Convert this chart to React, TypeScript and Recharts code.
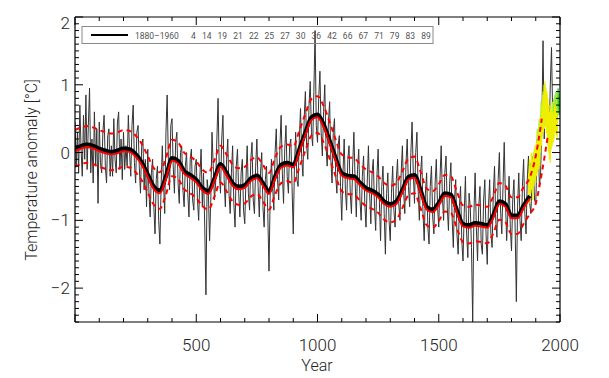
import { LineChart, Line, XAxis, YAxis } from "recharts";

const noisyYears = Array.from({ length: 395 }, (_, i) => i * 5);
const noisyValues = [
  0.45, -0.2, 0.3, -0.3, 0.7, 0.05, -0.35, 0.55, -0.1, 0.85, -0.25, 0.4, 0.95, -0.3, 0.2, -0.45, 0.6, -0.2, 0.35, -0.75,
  0.45, -0.15, -0.3, 0.3, 0.55, -0.2, -0.45, 0.25, 0.35, -0.35, 0.1, -0.35, 0.5, -0.1, -0.3, 0.45, 0.6, -0.25, 0.2, -0.4,
  0.3, -0.25, 0.1, -0.2, 0.55, 0.0, -0.35, 0.4, 0.7, -0.15, -0.45, 0.3, 0.4, -0.2, -0.6, 0.1, 0.2, -0.55, -0.1, -0.8,
  0.05, -0.6, -0.95, -0.3, -0.1, -0.8, -1.2, -0.4, -0.2, -1.0, -1.35, -0.5, 0.1, -0.45, -0.9, 0.3, 0.85, -0.1, -0.55, 0.4,
  0.5, -0.2, -0.6, 0.15, 0.3, -0.45, -0.75, 0.0, 0.1, -0.55, -0.8, -0.2, 0.0, -0.6, -0.95, -0.1, 0.05, -0.7, -0.85, -0.2,
  -0.1, -0.7, -1.0, -0.35, 0.05, -0.8, -0.3, -1.1, -2.1, -0.4, -0.6, -1.3, -0.7, 0.3, -0.2, -0.7, -0.45, 0.2, 0.8, -0.3,
  -0.6, 0.2, 0.55, -0.4, -0.8, -0.1, 0.2, -0.6, -0.9, -0.3, 0.1, -0.75, -1.1, -0.2, 0.05, -0.6, -0.95, -0.3, -0.1, -0.85,
  -1.05, -0.4, 0.1, -0.6, -0.85, -0.1, 0.15, -0.7, -0.9, -0.2, 0.2, -0.5, -0.95, -0.3, 0.0, -0.8, -1.1, -0.4, -0.2, -0.9,
  -1.75, -0.6, -0.1, -0.5, -0.85, 0.0, 0.35, -0.4, -0.7, 0.1, 0.55, -0.3, -0.75, 0.05, 0.4, -0.35, -0.6, 0.1, 0.2, -0.5,
  -1.2, -0.2, 0.3, -0.4, -0.5, 0.2, 0.65, -0.1, -0.35, 0.5, 0.9, 0.1, -0.1, 0.7, 1.05, 0.3, 0.1, 0.9, 1.8, 0.4,
  0.15, 0.8, 1.2, 0.3, -0.05, 0.6, 1.0, 0.1, -0.2, 0.45, 0.75, -0.1, -0.45, 0.3, 0.5, -0.35, -0.6, 0.1, 0.25, -0.5,
  -1.0, -0.3, 0.2, -0.55, -0.85, -0.1, 0.1, -0.6, -0.9, -0.2, 0.3, -0.4, -0.95, -0.25, 0.05, -0.7, -1.0, -0.35, -0.05, -0.75,
  -1.1, -0.45, 0.1, -0.6, -1.05, -0.3, -0.1, -0.8, -1.15, -0.35, 0.05, -0.7, -1.3, -0.5, -0.2, -0.9, -1.5, -0.6, -0.3, -1.0,
  -1.3, -0.6, -0.2, -0.85, -1.1, -0.4, -0.1, -0.75, -1.0, -0.3, 0.1, -0.55, -0.9, -0.15, 0.2, -0.5, -0.8, 0.0, 0.45, -0.3,
  -0.75, 0.0, 0.3, -0.55, -1.0, -0.3, -0.05, -0.9, -1.3, -0.6, -0.3, -1.1, -1.35, -0.5, -0.2, -0.95, -1.2, -0.45, -0.1, -0.8,
  -1.1, -0.4, 0.1, -0.65, -1.0, -0.3, -0.05, -0.8, -1.15, -0.45, -0.15, -0.95, -1.4, -0.7, -0.4, -1.2, -1.5, -0.8, -0.5, -1.3,
  -1.6, -0.9, -0.35, -1.2, -1.55, -0.6, -0.8, -1.4, -2.5, -0.9, -0.3, -1.1, -1.6, -0.8, -0.5, -1.35, -1.5, -0.7, -0.4, -1.2,
  -1.65, -0.8, -0.4, -1.2, -1.4, -0.6, -0.2, -1.0, -1.25, -0.4, 0.0, -0.85, -1.2, -0.5, 0.15, -0.7, -1.3, -0.9, -0.35, -1.1,
  -1.45, -0.7, -0.4, -1.1, -2.2, -0.8, -0.3, -1.0, -1.3, -0.5, -0.1, -0.9, -1.2, -0.4, -0.05, -0.75, -0.9, -0.3, -0.2, -0.7,
  -0.75, -0.1, 0.2, -0.5, -0.3, 0.4, 1.65, 0.2, 0.9, 0.3, 0.6, 0.2, 1.0, 1.55, 0.5,
];

// smoothed curves, every 25 years (0..1875)
const smoothYears = Array.from({ length: 76 }, (_, i) => i * 25);
const smoothBlack = [
  0.06, 0.1, 0.12, 0.1, 0.06, 0.03, 0.01, 0.03, 0.06, 0.05,
  -0.02, -0.14, -0.32, -0.5, -0.56, -0.35, -0.08, -0.12, -0.27, -0.33,
  -0.4, -0.52, -0.57, -0.38, -0.17, -0.3, -0.45, -0.5, -0.48, -0.38,
  -0.34, -0.45, -0.57, -0.35, -0.18, -0.15, -0.18, 0.05, 0.3, 0.52,
  0.56, 0.42, 0.18, -0.08, -0.3, -0.34, -0.35, -0.44, -0.52, -0.56,
  -0.62, -0.72, -0.76, -0.72, -0.55, -0.36, -0.33, -0.55, -0.8, -0.84,
  -0.74, -0.6, -0.62, -0.85, -1.05, -1.07, -1.04, -1.05, -1.07, -0.92,
  -0.72, -0.76, -0.93, -0.93, -0.78, -0.64,
];
const smoothRed = [
  0.02, 0.06, 0.08, 0.06, 0.02, -0.01, -0.03, -0.01, 0.02, 0.01,
  -0.06, -0.18, -0.36, -0.54, -0.6, -0.39, -0.12, -0.16, -0.31, -0.37,
  -0.44, -0.56, -0.61, -0.42, -0.21, -0.34, -0.49, -0.54, -0.52, -0.42,
  -0.38, -0.49, -0.61, -0.39, -0.22, -0.19, -0.22, 0.01, 0.26, 0.48,
  0.52, 0.38, 0.14, -0.12, -0.34, -0.38, -0.39, -0.48, -0.56, -0.6,
  -0.66, -0.76, -0.8, -0.76, -0.59, -0.4, -0.37, -0.59, -0.84, -0.88,
  -0.78, -0.64, -0.66, -0.89, -1.09, -1.11, -1.08, -1.09, -1.11, -0.96,
  -0.76, -0.8, -0.97, -0.97, -0.82, -0.68,
];

// confidence band (dashed), every 25 years
const upperYears = Array.from({ length: 78 }, (_, i) => i * 25);
const upperBand = [
  0.33, 0.37, 0.39, 0.37, 0.33, 0.3, 0.28, 0.3, 0.33, 0.32,
  0.25, 0.13, -0.05, -0.23, -0.29, -0.08, 0.19, 0.15, 0.0, -0.06,
  -0.13, -0.25, -0.3, -0.11, 0.1, -0.03, -0.18, -0.23, -0.21, -0.11,
  -0.07, -0.18, -0.3, -0.08, 0.09, 0.12, 0.09, 0.32, 0.57, 0.79,
  0.83, 0.69, 0.45, 0.19, -0.03, -0.07, -0.08, -0.17, -0.25, -0.29,
  -0.35, -0.45, -0.49, -0.45, -0.28, -0.09, -0.06, -0.28, -0.53, -0.57,
  -0.47, -0.33, -0.35, -0.58, -0.78, -0.8, -0.77, -0.78, -0.8, -0.65,
  -0.45, -0.49, -0.66, -0.66, -0.51, -0.37, -0.05, 0.5,
];
const lowerYears = Array.from({ length: 79 }, (_, i) => i * 25);
const lowerBand = [
  -0.21, -0.17, -0.15, -0.17, -0.21, -0.24, -0.26, -0.24, -0.21, -0.22,
  -0.29, -0.41, -0.59, -0.77, -0.83, -0.62, -0.35, -0.39, -0.54, -0.6,
  -0.67, -0.79, -0.84, -0.65, -0.44, -0.57, -0.72, -0.77, -0.75, -0.65,
  -0.61, -0.72, -0.84, -0.62, -0.45, -0.42, -0.45, -0.22, 0.03, 0.25,
  0.29, 0.15, -0.09, -0.35, -0.57, -0.61, -0.62, -0.71, -0.79, -0.83,
  -0.89, -0.99, -1.03, -0.99, -0.82, -0.63, -0.6, -0.82, -1.07, -1.11,
  -1.01, -0.87, -0.89, -1.12, -1.32, -1.34, -1.31, -1.32, -1.34, -1.19,
  -0.99, -1.03, -1.2, -1.2, -1.05, -0.91, -0.75, -0.3, 0.25,
];

// instrumental records
const yellowYears = Array.from({ length: 61 }, (_, i) => 1870 + i * 2);
const instYellow = [
  -0.3, -0.7, -0.1, -0.75, -0.2, -0.6, 0.0, -0.55, -0.1, -0.7,
  -0.05, -0.5, 0.05, -0.4, 0.1, -0.45, 0.15, -0.35, 0.2, -0.3,
  0.3, -0.25, 0.35, -0.2, 0.5, 0.0, 0.55, 0.1, 0.7, 0.25,
  0.85, 0.3, 1.0, 0.35, 1.05, 0.4, 0.95, 0.3, 0.9, 0.2,
  0.8, 0.0, 0.7, -0.1, 0.6, -0.15, 0.65, 0.05, 0.75, 0.1,
  0.6, 0.15, 0.55, 0.2, 0.7, 0.3, 0.65, 0.25, 0.6, 0.2, 0.5,
];
const lightGreenYears = Array.from({ length: 31 }, (_, i) => 1870 + i * 4);
const instLightGreen = [
  -0.5, -0.2, -0.6, -0.1, -0.45, 0.0, -0.3, 0.1, -0.2, 0.35,
  0.0, 0.5, 0.2, 0.75, 0.4, 0.9, 0.5, 1.0, 0.45, 0.85,
  0.1, 0.7, 0.0, 0.6, 0.2, 0.75, 0.3, 0.85, 0.35, 0.9, 0.5,
];
const greenYears = Array.from({ length: 33 }, (_, i) => 1872 + i * 4);
const instGreen = [
  -0.3, -0.55, -0.15, -0.5, -0.05, -0.35, 0.05, -0.25, 0.2, -0.1,
  0.35, 0.05, 0.55, 0.2, 0.7, 0.35, 0.8, 0.4, 0.75, 0.3,
  0.6, 0.1, 0.55, 0.15, 0.65, 0.2, 0.8, 0.3, 0.9, 0.45,
  0.95, 0.55, 0.9,
];

const xTicks = [0, 100, 200, 300, 400, 500, 600, 700, 800, 900, 1000, 1100, 1200, 1300, 1400, 1500, 1600, 1700, 1800, 1900, 2000];
const xLabels = [500, 1000, 1500, 2000];
const yTicks = Array.from({ length: 46 }, (_, i) => Math.round((-2.5 + i * 0.1) * 10) / 10);
const yLabels = [-2, -1, 0, 1, 2];
const legendText = "1880\u20131960  4 14 19 21 22 25 27 30 36 42 66 67 71 79 83 89";

const pts = (xs: number[], ys: number[]) => ys.map((v, i) => ({ year: xs[i], v }));

const FONT = "Roboto, 'DejaVu Sans', sans-serif";
const TXT = "#222";

function BottomTick({ x, y, payload }: any) {
  const v = payload.value;
  const major = v % 500 === 0;
  return (
    <g>
      <line x1={x} y1={y} x2={x} y2={y - (major ? 8 : 4)} stroke="#000" />
      {xLabels.includes(v) && (
        <text x={x} y={y + 29} textAnchor="middle" fontSize={17} fontFamily={FONT} fontWeight={300} fill={TXT}>
          {v}
        </text>
      )}
    </g>
  );
}

function TopTick({ x, y, payload }: any) {
  const major = payload.value % 500 === 0;
  return <line x1={x} y1={y} x2={x} y2={y + (major ? 8 : 4)} stroke="#000" />;
}

function LeftTick({ x, y, payload }: any) {
  const v = payload.value;
  const major = Math.abs(v - Math.round(v)) < 1e-6;
  const label = major && yLabels.includes(Math.round(v));
  return (
    <g>
      <line x1={x} y1={y} x2={x + (major ? 8 : 4)} y2={y} stroke="#000" />
      {label && (
        <text x={x - 5} y={Math.max(y + 6, 29)} textAnchor="end" fontSize={17} fontFamily={FONT} fontWeight={300} fill={TXT}>
          {Math.round(v) < 0 ? "\u2212" + Math.abs(Math.round(v)) : String(Math.round(v))}
        </text>
      )}
    </g>
  );
}

function RightTick({ x, y, payload }: any) {
  const v = payload.value;
  const major = Math.abs(v - Math.round(v)) < 1e-6;
  return <line x1={x} y1={y} x2={x - (major ? 8 : 4)} y2={y} stroke="#000" />;
}

export default function App() {
  const axisLine = { stroke: "#000", strokeWidth: 1.2 };
  return (
    <div style={{ position: "absolute", left: 0, top: 0, width: 609, height: 378, background: "#fff" }}>
      <LineChart width={609} height={378} margin={{ top: 16, right: 48, bottom: 26, left: 35 }}>
        <XAxis
          xAxisId="b"
          type="number"
          dataKey="year"
          domain={[0, 2000]}
          ticks={xTicks}
          interval={0}
          allowDataOverflow
          height={30}
          tickSize={0}
          tickMargin={0}
          tickLine={false}
          axisLine={axisLine}
          tick={(p: any) => <BottomTick {...p} />}
        />
        <XAxis
          xAxisId="t"
          orientation="top"
          type="number"
          dataKey="year"
          domain={[0, 2000]}
          ticks={xTicks}
          interval={0}
          allowDataOverflow
          height={1}
          tickSize={0}
          tickMargin={0}
          tickLine={false}
          axisLine={axisLine}
          tick={(p: any) => <TopTick {...p} />}
        />
        <YAxis
          yAxisId="l"
          type="number"
          domain={[-2.5, 2]}
          ticks={yTicks}
          interval={0}
          allowDataOverflow
          width={40}
          tickSize={0}
          tickMargin={0}
          tickLine={false}
          axisLine={axisLine}
          tick={(p: any) => <LeftTick {...p} />}
        />
        <YAxis
          yAxisId="r"
          orientation="right"
          type="number"
          domain={[-2.5, 2]}
          ticks={yTicks}
          interval={0}
          allowDataOverflow
          width={1}
          tickSize={0}
          tickMargin={0}
          tickLine={false}
          axisLine={axisLine}
          tick={(p: any) => <RightTick {...p} />}
        />
        <Line xAxisId="b" yAxisId="l" data={pts(noisyYears, noisyValues)} dataKey="v" type="linear" stroke="#333" strokeWidth={1} dot={false} isAnimationActive={false} />
        <Line xAxisId="b" yAxisId="l" data={pts(greenYears, instGreen)} dataKey="v" type="linear" stroke="#22cc22" strokeWidth={1.2} dot={false} isAnimationActive={false} />
        <Line xAxisId="b" yAxisId="l" data={pts(lightGreenYears, instLightGreen)} dataKey="v" type="linear" stroke="#aaee33" strokeWidth={1.2} dot={false} isAnimationActive={false} />
        <Line xAxisId="b" yAxisId="l" data={pts(yellowYears, instYellow)} dataKey="v" type="linear" stroke="#eeee00" strokeWidth={1.2} dot={false} isAnimationActive={false} />
        <Line xAxisId="b" yAxisId="l" data={pts(smoothYears, smoothBlack)} dataKey="v" type="monotone" stroke="#000" strokeWidth={4} dot={false} isAnimationActive={false} />
        <Line xAxisId="b" yAxisId="l" data={pts(smoothYears, smoothRed)} dataKey="v" type="monotone" stroke="#ff0000" strokeWidth={2} dot={false} isAnimationActive={false} />
        <Line xAxisId="b" yAxisId="l" data={pts(upperYears, upperBand)} dataKey="v" type="monotone" stroke="#ff0000" strokeWidth={2} strokeDasharray="5 4" dot={false} isAnimationActive={false} />
        <Line xAxisId="b" yAxisId="l" data={pts(lowerYears, lowerBand)} dataKey="v" type="monotone" stroke="#ff0000" strokeWidth={2} strokeDasharray="5 4" dot={false} isAnimationActive={false} />
      </LineChart>
      <svg width={609} height={378} style={{ position: "absolute", left: 0, top: 0, pointerEvents: "none" }}>
        <rect x={82} y={26.5} width={351} height={17} fill="none" stroke="#888" strokeWidth={1} />
        <line x1={91} y1={35} x2={128} y2={35} stroke="#000" strokeWidth={2} />
        <text x={135} y={38.5} fontSize={8.5} fontFamily={FONT} fill="#555" style={{ whiteSpace: "pre", wordSpacing: 4 }}>
          {legendText}
        </text>
        <text x={317} y={371} textAnchor="middle" fontSize={16} fontFamily={FONT} fontWeight={300} fill={TXT}>
          Year
        </text>
        <text x={37} y={170} textAnchor="middle" fontSize={16} fontFamily={FONT} fontWeight={300} fill={TXT} transform="rotate(-90 37 170)">
          Temperature anomaly [°C]
        </text>
      </svg>
    </div>
  );
}
